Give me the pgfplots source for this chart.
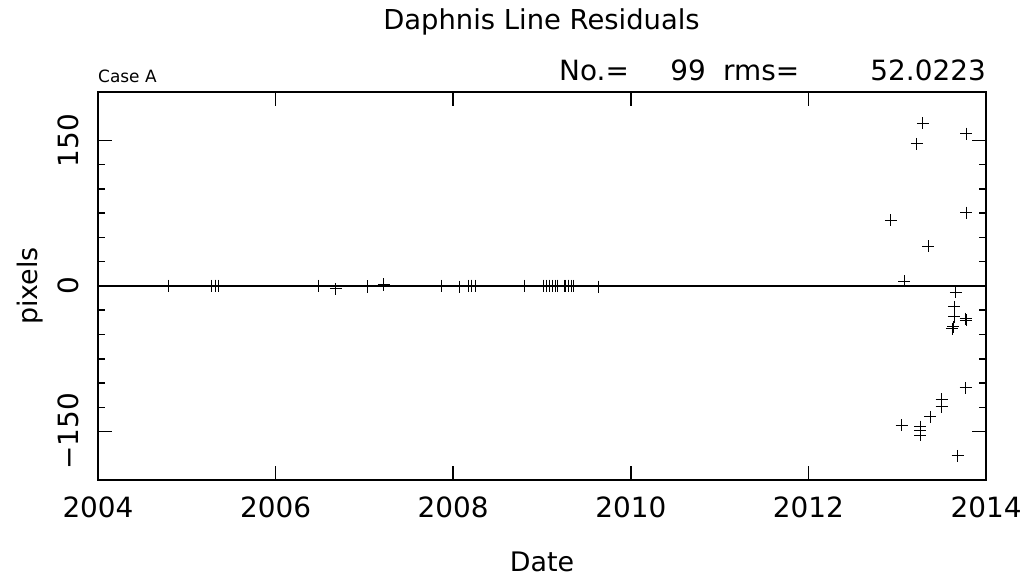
\documentclass[border=0pt]{standalone}
\usepackage{fontspec}
\setmainfont{DejaVu Sans}
\usepackage{pgfplots}
\usepackage{pgfplotstable}
\pgfplotsset{compat=1.18}
\pgfplotstableread{
x y
2004.79 0.2
2004.79 -0.2
2004.79 0.1
2005.28 0.1
2005.28 -0.2
2005.28 0.2
2005.32 0.0
2005.32 0.3
2005.32 -0.3
2005.32 0.1
2005.36 0.2
2005.36 -0.1
2005.36 0.0
2006.48 0.1
2006.48 -0.2
2006.48 0.2
2006.68 -3.0
2007.03 -1.0
2007.03 -0.5
2007.22 2.0
2007.22 1.5
2007.87 0.1
2007.87 -0.1
2007.87 0.2
2008.07 -1.0
2008.07 -0.8
2008.17 0.2
2008.17 -0.1
2008.17 0.0
2008.21 0.1
2008.21 -0.2
2008.21 0.3
2008.21 0.0
2008.25 0.1
2008.25 -0.1
2008.25 0.2
2008.80 0.0
2008.80 0.2
2008.80 -0.2
2009.02 0.1
2009.02 -0.1
2009.02 0.3
2009.05 0.2
2009.05 -0.2
2009.05 0.0
2009.08 0.1
2009.08 -0.3
2009.08 0.2
2009.08 0.0
2009.12 0.1
2009.12 -0.1
2009.12 0.2
2009.15 0.0
2009.15 0.2
2009.15 -0.2
2009.17 0.1
2009.17 -0.1
2009.17 0.3
2009.25 0.2
2009.25 -0.2
2009.25 0.0
2009.27 0.1
2009.27 -0.1
2009.27 0.2
2009.30 0.0
2009.30 0.3
2009.30 -0.3
2009.30 0.1
2009.33 0.2
2009.33 -0.1
2009.33 0.0
2009.35 0.1
2009.35 -0.2
2009.35 0.2
2009.64 -1.0
2009.64 -0.6
2012.93 67.7
2013.08 5.0
2013.22 146.6
2013.29 168.0
2013.35 41.2
2013.78 157.0
2013.78 75.6
2013.66 -6.2
2013.64 -21.6
2013.64 -31.9
2013.77 -33.6
2013.78 -35.5
2013.63 -42.2
2013.62 -43.9
2013.77 -105.0
2013.50 -116.7
2013.50 -124.6
2013.37 -134.9
2013.05 -143.5
2013.26 -145.0
2013.26 -149.3
2013.26 -153.8
2013.68 -175.0
}\residuals
\begin{document}
\begin{tikzpicture}
\path[use as bounding box] (-98bp,-99bp) rectangle (929bp,480bp);
\begin{axis}[
  scale only axis, width=888bp, height=388bp,
  xmin=2004, xmax=2014, ymin=-200, ymax=200,
  xtick={2004,2006,...,2014}, minor x tick num=1,
  ytick={-150,0,150}, yticklabels={−150,0,150}, minor y tick num=5,
  tick align=inside, major tick length=14bp, minor tick length=7bp,
  every tick/.style={black, line width=1.5bp},
  axis line style={line width=1.5bp},
  /pgf/number format/1000 sep={}, /pgf/number format/assume math mode=true,
  ticklabel style={font=\fontsize{28}{30}\selectfont},
  xticklabel style={anchor=base, yshift=-37bp},
  yticklabel style={xshift=-19.7bp, rotate=90, anchor=base},
  xlabel={Date}, ylabel={pixels},
  xlabel style={at={(axis description cs:0.5,-0.237)}, anchor=base, inner sep=0pt, font=\fontsize{27}{30}\selectfont},
  ylabel style={at={(axis description cs:-0.0766,0.5)}, anchor=center, font=\fontsize{27}{30}\selectfont},
  title={Daphnis Line Residuals},
  title style={at={(axis description cs:0.4994,1.1469)}, anchor=base, font=\fontsize{27.5}{30}\selectfont},
]
\addplot[black, line width=1.5bp, forget plot] coordinates {(2004,0) (2014,0)};
\addplot[only marks, mark=+, mark size=6bp, mark options={line width=1bp, black}] table[x=x, y=y] {\residuals};
\end{axis}
\node[anchor=base west, inner sep=0, font=\fontsize{17}{20}\selectfont] at (0bp,397bp) {Case A};
\node[anchor=base west, inner sep=0, font=\fontsize{28}{30}\selectfont] at (461bp,399bp) {No.=};
\node[anchor=base east, inner sep=0, font=\fontsize{28}{30}\selectfont] at (608bp,399bp) {99};
\node[anchor=base west, inner sep=0, font=\fontsize{28}{30}\selectfont] at (625bp,399bp) {rms=};
\node[anchor=base east, inner sep=0, font=\fontsize{28}{30}\selectfont] at (888bp,399bp) {52.0223};
\end{tikzpicture}
\end{document}
